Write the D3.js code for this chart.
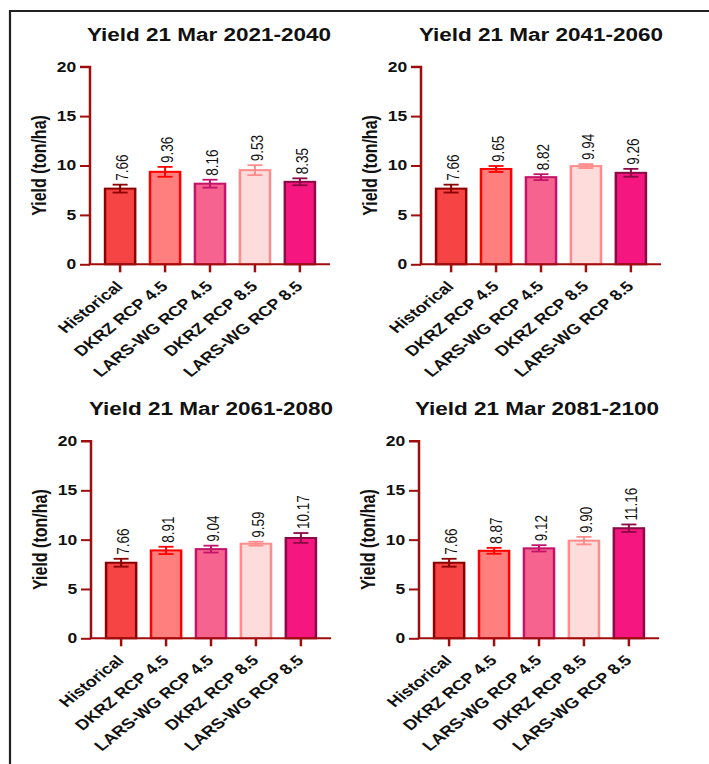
<!DOCTYPE html>
<html><head><meta charset="utf-8">
<script src="https://cdn.jsdelivr.net/npm/d3@7"></script>
<style>html,body{margin:0;padding:0;background:#fff;}svg{display:block;}</style>
</head><body>
<svg id="chart" width="709" height="764"></svg>
<script>
// ---- data ----
const categories = ["Historical", "DKRZ RCP 4.5", "LARS-WG RCP 4.5", "DKRZ RCP 8.5", "LARS-WG RCP 8.5"];
const panelTitles = ["Yield 21 Mar 2021-2040", "Yield 21 Mar 2041-2060", "Yield 21 Mar 2061-2080", "Yield 21 Mar 2081-2100"];
const yield2021 = [7.66, 9.36, 8.16, 9.53, 8.35];
const err2021   = [0.40, 0.50, 0.40, 0.50, 0.35];
const yield2041 = [7.66, 9.65, 8.82, 9.94, 9.26];
const err2041   = [0.40, 0.30, 0.30, 0.20, 0.40];
const yield2061 = [7.66, 8.91, 9.04, 9.59, 10.17];
const err2061   = [0.40, 0.37, 0.35, 0.20, 0.50];
const yield2081 = [7.66, 8.87, 9.12, 9.90, 11.16];
const err2081   = [0.40, 0.30, 0.32, 0.38, 0.38];
const yTicks = [0, 5, 10, 15, 20];
const yLabel = "Yield (ton/ha)";

// ---- styles ----
const fills   = ["#f64444", "#ff7f7f", "#f7638f", "#ffdcdc", "#f5167f"];
const strokes = ["#8b0000", "#ff0000", "#c4146a", "#ff8c8c", "#8a0a45"];
const axisColor = "#a00d0d";
const FONT = "'Liberation Sans', Arial, Helvetica, sans-serif";
const SX = 1.25; // horizontal stretch of the original figure

const series = [yield2021, yield2041, yield2061, yield2081];
const errors = [err2021, err2041, err2061, err2081];
// panel placement: y-axis x position, top (y=20) and bottom (y=0) pixel, title baseline, title centre
const panels = [
  {ax: 90,  top: 66.7, bottom: 264.3, tY: 40.5, tX: 209},
  {ax: 421, top: 66.7, bottom: 264.3, tY: 40.5, tX: 541},
  {ax: 91,  top: 441,  bottom: 638.3, tY: 415,  tX: 211},
  {ax: 419, top: 441,  bottom: 638.3, tY: 414.5, tX: 537}
];

const svg = d3.select("#chart");
svg.append("rect").attr("width", 709).attr("height", 764).attr("fill", "#fff");

// frame
svg.append("path").attr("d", "M10,764 L10,11 L709,11")
  .attr("fill", "none").attr("stroke", "#222").attr("stroke-width", 2.2);

const innerW = 192;

panels.forEach((p, i) => {
  const vals = series[i], errs = errors[i];
  svg.append("text")
    .attr("transform", `translate(${p.tX},${p.tY}) scale(${SX},1)`)
    .attr("text-anchor", "middle")
    .attr("font-family", FONT).attr("font-weight", "bold").attr("font-size", 18)
    .attr("fill", "#111").text(panelTitles[i]);

  const g = svg.append("g").attr("transform", `translate(${p.ax},0) scale(${SX},1)`);
  const x = d3.scaleBand().domain(categories).range([0, innerW]).paddingInner(0.33).paddingOuter(0.335);
  const y = d3.scaleLinear().domain([0, 20]).range([p.bottom, p.top]);
  const cx = k => x(categories[k]) + x.bandwidth() / 2;

  // bars
  g.selectAll("rect.bar").data(vals).join("rect").attr("class", "bar")
    .attr("x", (d, k) => x(categories[k]))
    .attr("y", d => y(d))
    .attr("width", x.bandwidth())
    .attr("height", d => y(0) - y(d))
    .attr("fill", (d, k) => fills[k])
    .attr("stroke", (d, k) => strokes[k]).attr("stroke-width", 2);

  // error bars
  const eb = g.selectAll("g.err").data(vals).join("g").attr("class", "err");
  eb.append("line")
    .attr("x1", (d, k) => cx(k)).attr("x2", (d, k) => cx(k))
    .attr("y1", (d, k) => y(d - errs[k])).attr("y2", (d, k) => y(d + errs[k]))
    .attr("stroke", (d, k) => strokes[k]).attr("stroke-width", 1.6);
  [1, -1].forEach(s => {
    eb.append("line")
      .attr("x1", (d, k) => cx(k) - 6).attr("x2", (d, k) => cx(k) + 6)
      .attr("y1", (d, k) => y(d + s * errs[k])).attr("y2", (d, k) => y(d + s * errs[k]))
      .attr("stroke", (d, k) => strokes[k]).attr("stroke-width", 1.8);
  });

  // value labels
  g.selectAll("text.val").data(vals).join("text").attr("class", "val")
    .attr("transform", (d, k) => `translate(${cx(k) + 1.5},${y(d + errs[k]) - 4}) rotate(-90)`)
    .attr("dy", "0.35em")
    .attr("font-family", FONT).attr("font-size", 13.5).attr("fill", "#111")
    .text(d => d.toFixed(2));

  // y axis
  const yAxis = d3.axisLeft(y).tickValues(yTicks).tickSize(8).tickPadding(3).tickFormat(d3.format("d"));
  const ya = g.append("g").call(yAxis);
  ya.select(".domain").attr("stroke", axisColor).attr("stroke-width", 2).attr("d", `M-8,${y(20)}H0V${y(0)}`);
  ya.selectAll(".tick line").attr("stroke", axisColor).attr("stroke-width", 2);
  ya.selectAll(".tick text").attr("font-family", FONT).attr("font-weight", "bold")
    .attr("font-size", 14).attr("fill", "#111");

  // x axis
  const xAxis = d3.axisBottom(x).tickSize(8).tickFormat("");
  const xa = g.append("g").attr("transform", `translate(0,${y(0)})`).call(xAxis);
  xa.select(".domain").attr("stroke", axisColor).attr("stroke-width", 2).attr("d", `M-1,0H${innerW}`);
  xa.selectAll(".tick line").attr("stroke", axisColor).attr("stroke-width", 2);

  // x labels rotated -45
  g.selectAll("text.xl").data(categories).join("text").attr("class", "xl")
    .attr("transform", d => `translate(${x(d) + x.bandwidth() / 2 + 3},${y(0) + 23}) rotate(-45)`)
    .attr("text-anchor", "end")
    .attr("font-family", FONT).attr("font-weight", "bold").attr("font-size", 14.5).attr("fill", "#111")
    .text(d => d);

  // y label
  g.append("text")
    .attr("transform", `translate(-41,${(p.top + p.bottom) / 2}) rotate(-90)`)
    .attr("text-anchor", "middle").attr("dy", "0.35em")
    .attr("font-family", FONT).attr("font-weight", "bold").attr("font-size", 16).attr("fill", "#111")
    .text(yLabel);
});
</script>
</body></html>
